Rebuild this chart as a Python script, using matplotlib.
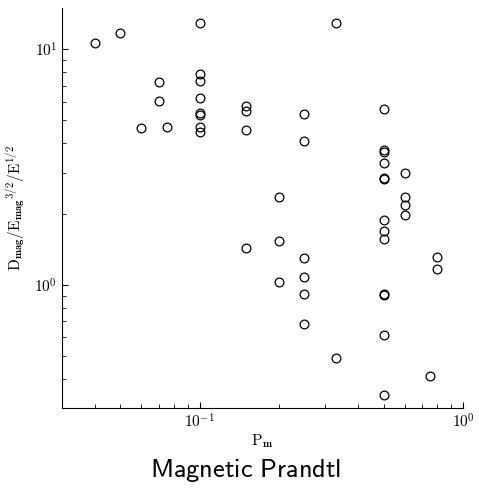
import numpy as np
import matplotlib
matplotlib.use("Agg")
import matplotlib.pyplot as plt
from matplotlib.ticker import FuncFormatter

plt.rcParams['mathtext.fontset'] = 'cm'

# magnetic Prandtl number of each run
pm = [0.04, 0.05, 0.06, 0.07, 0.07, 0.075,
      0.1, 0.1, 0.1, 0.1, 0.1, 0.1, 0.1, 0.1,
      0.15, 0.15, 0.15, 0.15,
      0.2, 0.2, 0.2,
      0.25, 0.25, 0.25, 0.25, 0.25, 0.25,
      0.33, 0.33,
      0.5, 0.5, 0.5, 0.5, 0.5, 0.5, 0.5, 0.5, 0.5, 0.5, 0.5, 0.5, 0.5,
      0.6, 0.6, 0.6, 0.6,
      0.75, 0.8, 0.8]
# D_mag / E_mag^(3/2) / E^(1/2)
dmag = [10.7, 11.7, 4.66, 7.24, 6.03, 4.69,
        12.9, 7.83, 7.38, 6.23, 5.36, 5.25, 4.67, 4.46,
        5.76, 5.50, 4.55, 1.43,
        2.37, 1.53, 1.03,
        5.31, 4.10, 1.30, 1.085, 0.918, 0.68,
        13.0, 0.488,
        5.61, 3.73, 3.66, 3.30, 2.82, 2.85, 1.88, 1.70, 1.57, 0.906, 0.912, 0.612, 0.34,
        2.99, 2.37, 2.19, 1.99,
        0.41, 1.32, 1.166]

fig = plt.figure(figsize=(4.79, 4.96), dpi=100)
ax = fig.add_axes([0.1294, 0.1774, 0.8372, 0.8065])

ax.plot(pm, dmag, 'o', mfc='none', mec='black', ms=6.3, mew=0.9)

ax.set_xscale('log')
ax.set_yscale('log')
ax.set_xlim(0.03, 1.0)
ax.set_ylim(0.3, 15)

# decade labels in computer modern
decade = FuncFormatter(lambda v, pos: r'$10^{%d}$' % round(np.log10(v)))
ax.xaxis.set_major_formatter(decade)
ax.yaxis.set_major_formatter(decade)

ax.spines['top'].set_visible(False)
ax.spines['right'].set_visible(False)
ax.tick_params(which='both', direction='in', labelsize=11)
ax.tick_params(which='major', length=4.5)
ax.tick_params(which='minor', length=3)

ax.set_xlabel(r'$\mathrm{P}_{\mathbf{m}}$', fontsize=11, labelpad=1)
ax.set_ylabel(r'$\mathrm{D}_{\mathbf{mag}}/\mathrm{E}_{\mathbf{mag}}{}^{3/2}/\mathrm{E}^{1/2}$', fontsize=11, labelpad=5)

fig.text(0.512, 0.052, r'$\mathsf{Magnetic\ Prandtl}$', fontsize=19, ha='center', va='center')

fig.savefig('out.png', dpi=100)
